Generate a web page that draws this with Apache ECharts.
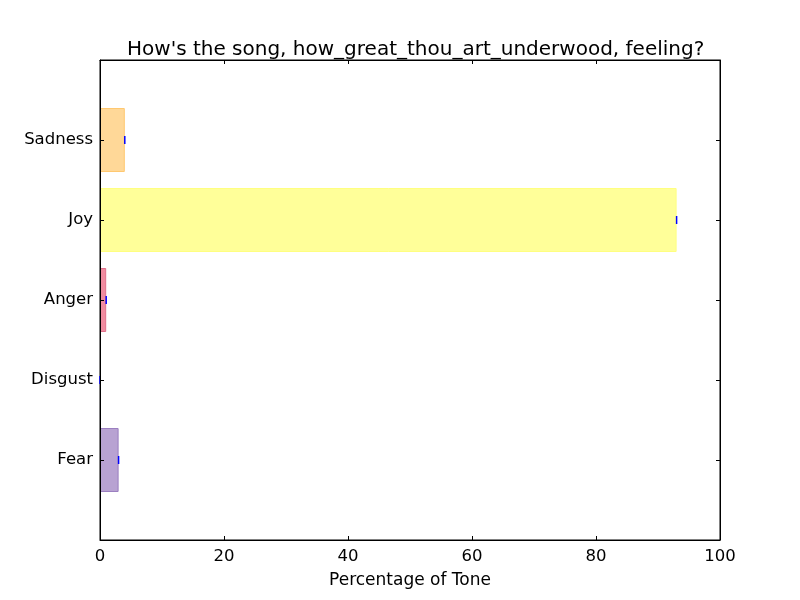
<!DOCTYPE html>
<html>
<head>
<meta charset="utf-8">
<script src="https://cdn.jsdelivr.net/npm/echarts@6/dist/echarts.min.js"></script>
<style>
  html, body { margin: 0; padding: 0; background: #fff; }
  #chart { width: 800px; height: 600px; }
</style>
</head>
<body>
<div id="chart"></div>
<script>
// tones, bottom to top
const tones = ['Fear', 'Disgust', 'Anger', 'Joy', 'Sadness'];
const percentages = [3, 0, 1, 93, 4];
const fills = ['#b8a2d2', 'transparent', '#f08ca0', '#ffff99', '#ffd898'];
const edges = ['#9b7fc0', 'transparent', '#e0708a', '#ffff80', '#ffc870'];
const xTicks = [0, 20, 40, 60, 80, 100];

// pad one empty slot on each side, like ylim(-1, 5)
const yCats = [''].concat(tones, ['']);

const font = 'DejaVu Sans';

const chart = echarts.init(document.getElementById('chart'), null, { renderer: 'canvas' });

const barData = ['-'].concat(percentages.map((v, i) => ({
  value: v,
  itemStyle: { color: fills[i], borderColor: edges[i], borderWidth: 1 }
})), ['-']);

const capData = percentages.map((v, i) => [v, tones[i]]);

const tickStyle = { show: true, inside: true, length: 4, lineStyle: { color: '#000', width: 1 } };
const lineStyle = { show: true, onZero: false, lineStyle: { color: '#000', width: 1 } };

chart.setOption({
  animation: false,
  title: {
    text: "How's the song, how_great_thou_art_underwood, feeling?",
    left: 122,
    top: 35,
    textStyle: { fontFamily: font, fontSize: 20, fontWeight: 'normal', color: '#000' }
  },
  grid: {
    left: 100, right: 80, top: 60, bottom: 60, containLabel: false,
    show: true, borderColor: '#000', borderWidth: 1, backgroundColor: 'transparent'
  },
  xAxis: [{
    type: 'value',
    min: xTicks[0],
    max: xTicks[xTicks.length - 1],
    interval: 20,
    position: 'bottom',
    name: 'Percentage of Tone',
    nameLocation: 'middle',
    nameGap: 32,
    nameTextStyle: { fontFamily: font, fontSize: 17, color: '#000' },
    axisLine: lineStyle,
    axisTick: tickStyle,
    axisLabel: { fontFamily: font, fontSize: 16.5, color: '#000', margin: 8 },
    splitLine: { show: false },
    z: 5
  }, {
    type: 'value',
    min: xTicks[0],
    max: xTicks[xTicks.length - 1],
    interval: 20,
    position: 'top',
    axisLine: lineStyle,
    axisTick: tickStyle,
    axisLabel: { show: false },
    splitLine: { show: false },
    z: 5
  }],
  yAxis: [{
    type: 'category',
    data: yCats,
    boundaryGap: false,
    position: 'left',
    axisLine: lineStyle,
    axisTick: Object.assign({ alignWithLabel: true, interval: 0 }, tickStyle),
    axisLabel: { fontFamily: font, fontSize: 16.5, color: '#000', margin: 7, interval: 0 },
    splitLine: { show: false },
    z: 5
  }, {
    type: 'category',
    data: yCats,
    boundaryGap: false,
    position: 'right',
    axisLine: lineStyle,
    axisTick: Object.assign({ alignWithLabel: true, interval: 0 }, tickStyle),
    axisLabel: { show: false },
    splitLine: { show: false },
    z: 5
  }],
  series: [{
    type: 'bar',
    xAxisIndex: 0,
    yAxisIndex: 0,
    barWidth: 64,
    data: barData,
    z: 2
  }, {
    type: 'scatter',
    xAxisIndex: 0,
    yAxisIndex: 0,
    symbol: 'rect',
    symbolSize: [1.5, 8],
    itemStyle: { color: '#0000ff', opacity: 1 },
    data: capData,
    z: 3
  }]
});

window.addEventListener('resize', () => chart.resize());
</script>
</body>
</html>
